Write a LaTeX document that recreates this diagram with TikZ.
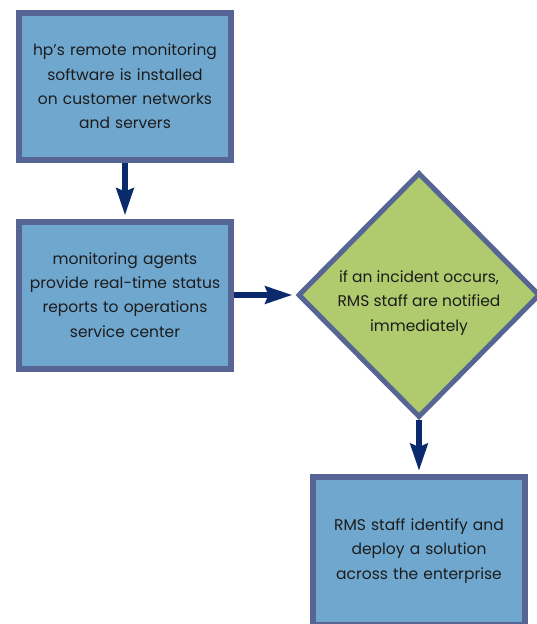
\documentclass[tikz,border=0pt]{standalone}
\usepackage{fontspec}
\setmainfont{Poppins}
\usepackage{tikz}
\usetikzlibrary{arrows.meta,shapes.geometric,positioning}
\definecolor{boxfill}{HTML}{6FA7CF}
\definecolor{boxline}{HTML}{566594}
\definecolor{decfill}{HTML}{B0CB6E}
\definecolor{arrowblue}{HTML}{0B2A6E}
\definecolor{textgray}{HTML}{1C1C1C}

\begin{document}
\begin{tikzpicture}[x=1pt,y=-1pt,on grid,
        every label/.style={align=center, text=textgray, font=\fontsize{15.5}{24.3}\selectfont},
        box/.style={rectangle, draw=boxline, fill=boxfill, line width=6pt,
            minimum width=212pt, minimum height=147pt, text width=204pt,
            align=center, text=textgray, font=\fontsize{15.5}{24.3}\selectfont},
        decision/.style={diamond, draw=boxline, fill=decfill, line width=5pt,
            minimum width=242pt, minimum height=245pt, inner sep=0pt},
        flow/.style={draw=arrowblue, line width=6pt, shorten >=3pt,
            -{Stealth[width=17pt,length=27pt,inset=3pt]}}]
    \useasboundingbox (0,0) rectangle (537,624);

    \node[box]      (install)  at (125,86.5) {hp's remote monitoring\\software is installed\\on customer networks\\and servers};
    \node[box]      (agents)   [below=208.5pt of install] {monitoring agents\\provide real-time status\\reports to operations\\service center};
    \node[decision, label={[yshift=-8pt]center:if an incident occurs,\\RMS staff are notified\\immediately}]
                    (incident) [right=294pt of agents] {};
    \node[box, minimum height=148pt] (deploy) [below=256pt of incident] {RMS staff identify and\\deploy a solution\\across the enterprise};

    \draw[flow] (install) -- (agents);
    \draw[flow] (agents) -- (incident);
    \draw[flow] (incident) -- (deploy);
\end{tikzpicture}
\end{document}
